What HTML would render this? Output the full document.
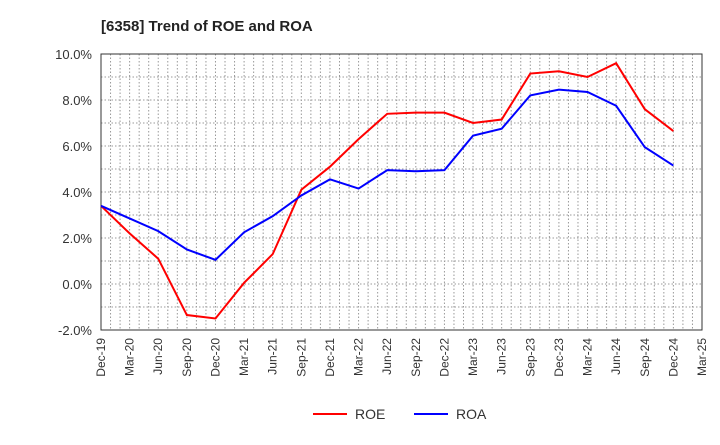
<!DOCTYPE html>
<html><head><meta charset="utf-8"><style>body{margin:0;background:#fff}svg{font-family:"Liberation Sans",sans-serif}</style></head>
<body>
<svg width="720" height="440">
<text x="101" y="31" font-size="15" font-weight="bold" fill="#222">[6358]  Trend of ROE and ROA</text>
<g id="grid"></g>
<g id="axes"></g>
<g id="series"></g>
<g>
<line x1="313" y1="414" x2="347" y2="414" stroke="#f00" stroke-width="2"/>
<text x="355" y="419" font-size="14" fill="#333">ROE</text>
<line x1="414" y1="414" x2="448" y2="414" stroke="#00f" stroke-width="2"/>
<text x="456" y="419" font-size="14" fill="#333">ROA</text>
</g>
</svg>
<script>
const categories=["Dec-19","Mar-20","Jun-20","Sep-20","Dec-20","Mar-21","Jun-21","Sep-21","Dec-21","Mar-22","Jun-22","Sep-22","Dec-22","Mar-23","Jun-23","Sep-23","Dec-23","Mar-24","Jun-24","Sep-24","Dec-24","Mar-25"];
const roe=[3.4,2.2,1.1,-1.35,-1.5,0.05,1.3,4.1,5.1,6.3,7.4,7.45,7.45,7.0,7.15,9.15,9.25,9.0,9.6,7.6,6.65];
const roa=[3.4,2.85,2.3,1.5,1.05,2.25,2.95,3.85,4.55,4.15,4.95,4.9,4.95,6.45,6.75,8.2,8.45,8.35,7.75,5.95,5.15];
const yTicks=[-2,0,2,4,6,8,10];
const L=101,R=702,T=54,B=330,yMin=-2,yMax=10;
const NS="http://www.w3.org/2000/svg";
const xs=i=>L+(R-L)*i/(categories.length-1);
const ys=v=>B-(v-yMin)/(yMax-yMin)*(B-T);
function mk(tag,attrs,parent){const e=document.createElementNS(NS,tag);for(const k in attrs)e.setAttribute(k,attrs[k]);parent.appendChild(e);return e;}
const grid=document.getElementById('grid'),axes=document.getElementById('axes'),series=document.getElementById('series');
for(let m=1;m<(categories.length-1)*3;m++){const x=L+(R-L)*m/((categories.length-1)*3);
const l=mk('line',{x1:x,x2:x,y1:T,y2:B,stroke:'#999','stroke-dasharray':'1.5,2','stroke-width':1},grid);

}
for(let v=yMin+1;v<yMax;v++){const y=ys(v);
const l=mk('line',{x1:L,x2:R,y1:y,y2:y,stroke:'#999','stroke-dasharray':'1.5,2','stroke-width':1},grid);

}
const box=mk('rect',{x:L,y:T,width:R-L,height:B-T,fill:'none',stroke:'#333','stroke-width':1},axes);


yTicks.forEach(v=>{const t=mk('text',{x:L-9,y:ys(v)+5,'font-size':13,'text-anchor':'end',fill:'#333'},axes);t.textContent=v.toFixed(1)+'%';

});
categories.forEach((c,i)=>{const x=xs(i)+4,y=B+8;const t=mk('text',{x:x,y:y,'font-size':12,'text-anchor':'end',fill:'#333',transform:`rotate(-90 ${x} ${y})`},axes);t.textContent=c;

});
function line(vals,color,name){const p=mk('polyline',{points:vals.map((v,i)=>xs(i)+','+ys(v)).join(' '),fill:'none',stroke:color,'stroke-width':2},series);

}
line(roe,'#f00','roe-line');
line(roa,'#00f','roa-line');
</script>
</body></html>
